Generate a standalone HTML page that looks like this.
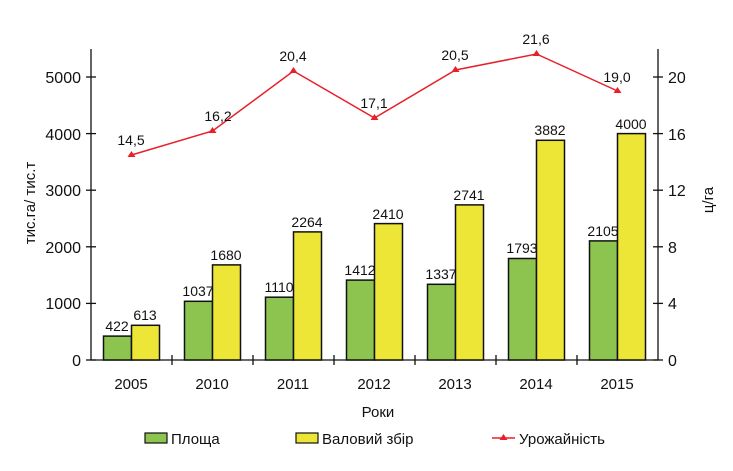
<!DOCTYPE html>
<html><head><meta charset="utf-8"><style>body{margin:0;background:#fff}svg{display:block}text{font-family:"Liberation Sans",sans-serif;fill:#111}</style></head><body>
<svg width="733" height="471" xmlns="http://www.w3.org/2000/svg">
<g stroke="#111" stroke-width="1.3">
<line x1="91" y1="49" x2="91" y2="360"/><line x1="658" y1="49" x2="658" y2="360"/><line x1="91" y1="360" x2="658" y2="360"/>
<line x1="86" y1="360" x2="96" y2="360"/><line x1="86" y1="303.4" x2="96" y2="303.4"/><line x1="86" y1="246.8" x2="96" y2="246.8"/><line x1="86" y1="190.2" x2="96" y2="190.2"/><line x1="86" y1="133.6" x2="96" y2="133.6"/><line x1="86" y1="77" x2="96" y2="77"/>
<line x1="653" y1="360" x2="663" y2="360"/><line x1="653" y1="303.4" x2="663" y2="303.4"/><line x1="653" y1="246.8" x2="663" y2="246.8"/><line x1="653" y1="190.2" x2="663" y2="190.2"/><line x1="653" y1="133.6" x2="663" y2="133.6"/><line x1="653" y1="77" x2="663" y2="77"/>
<line x1="172" y1="355" x2="172" y2="365"/><line x1="253" y1="355" x2="253" y2="365"/><line x1="334" y1="355" x2="334" y2="365"/><line x1="415" y1="355" x2="415" y2="365"/><line x1="496" y1="355" x2="496" y2="365"/><line x1="577" y1="355" x2="577" y2="365"/>
</g>
<g font-size="16" text-anchor="end">
<text x="81" y="366">0</text><text x="81" y="309">1000</text><text x="81" y="253">2000</text><text x="81" y="196">3000</text><text x="81" y="140">4000</text><text x="81" y="83">5000</text>
</g>
<g font-size="16">
<text x="668" y="366">0</text><text x="668" y="309">4</text><text x="668" y="253">8</text><text x="668" y="196">12</text><text x="668" y="140">16</text><text x="668" y="83">20</text>
</g>
<g stroke="#111" stroke-width="1.5">
<rect x="103.5" y="336.1" width="28" height="23.9" fill="#8dc450"/><rect x="131.5" y="325.3" width="28" height="34.7" fill="#ede636"/>
<rect x="184.5" y="301.3" width="28" height="58.7" fill="#8dc450"/><rect x="212.5" y="264.9" width="28" height="95.1" fill="#ede636"/>
<rect x="265.5" y="297.2" width="28" height="62.8" fill="#8dc450"/><rect x="293.5" y="231.9" width="28" height="128.1" fill="#ede636"/>
<rect x="346.5" y="280.1" width="28" height="79.9" fill="#8dc450"/><rect x="374.5" y="223.6" width="28" height="136.4" fill="#ede636"/>
<rect x="427.5" y="284.3" width="28" height="75.7" fill="#8dc450"/><rect x="455.5" y="204.9" width="28" height="155.1" fill="#ede636"/>
<rect x="508.5" y="258.5" width="28" height="101.5" fill="#8dc450"/><rect x="536.5" y="140.3" width="28" height="219.7" fill="#ede636"/>
<rect x="589.5" y="240.9" width="28" height="119.1" fill="#8dc450"/><rect x="617.5" y="133.6" width="28" height="226.4" fill="#ede636"/>
</g>
<g font-size="14" text-anchor="middle">
<text x="117" y="331">422</text><text x="145" y="320">613</text>
<text x="198" y="296">1037</text><text x="226" y="260">1680</text>
<text x="279" y="292">1110</text><text x="307" y="227">2264</text>
<text x="360" y="275">1412</text><text x="388" y="219">2410</text>
<text x="441" y="279">1337</text><text x="469" y="200">2741</text>
<text x="522" y="253">1793</text><text x="550" y="135">3882</text>
<text x="603" y="236">2105</text><text x="631" y="129">4000</text>
</g>
<polyline points="131.5,155 212.5,131 293.5,71 374.5,118 455.5,70 536.5,54 617.5,91" fill="none" stroke="#e8202a" stroke-width="1.5"/>
<g fill="#e8202a">
<path d="M131.5,151l4,6h-8z"/><path d="M212.5,127l4,6h-8z"/><path d="M293.5,67l4,6h-8z"/><path d="M374.5,114l4,6h-8z"/><path d="M455.5,66l4,6h-8z"/><path d="M536.5,50l4,6h-8z"/><path d="M617.5,87l4,6h-8z"/>
</g>
<g font-size="14" text-anchor="middle">
<text x="131" y="145">14,5</text><text x="218" y="121">16,2</text><text x="293" y="61">20,4</text><text x="374" y="108">17,1</text><text x="455" y="60">20,5</text><text x="536" y="44">21,6</text><text x="617" y="82">19,0</text>
</g>
<g font-size="15" text-anchor="middle">
<text x="131" y="389">2005</text><text x="212" y="389">2010</text><text x="293" y="389">2011</text><text x="374" y="389">2012</text><text x="455" y="389">2013</text><text x="536" y="389">2014</text><text x="617" y="389">2015</text>
<text x="378" y="417">Роки</text>
<text transform="translate(35,203) rotate(-90)">тис.га/ тис.т</text>
<text transform="translate(713,200) rotate(-90)">ц/га</text>
</g>
<rect x="145" y="433" width="22" height="10" fill="#8dc450" stroke="#111" stroke-width="1.2"/>
<text x="171" y="444" font-size="15">Площа</text>
<rect x="296" y="433" width="22" height="10" fill="#ede636" stroke="#111" stroke-width="1.2"/>
<text x="322" y="444" font-size="15">Валовий збір</text>
<line x1="492" y1="438" x2="515" y2="438" stroke="#e8202a" stroke-width="1.5"/>
<path d="M503.5,434l4,6h-8z" fill="#e8202a"/>
<text x="519" y="444" font-size="15">Урожайність</text>
</svg>
</body></html>
